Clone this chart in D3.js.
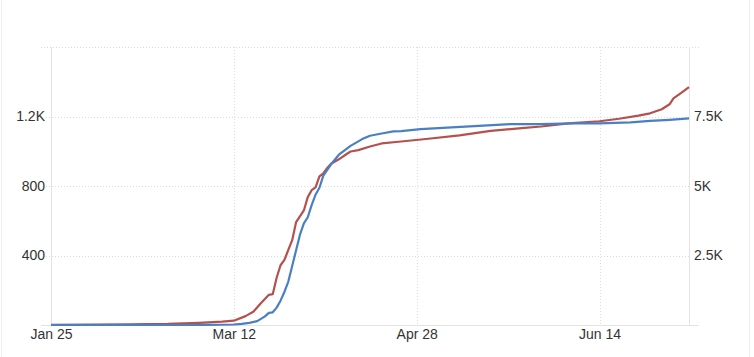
<!DOCTYPE html>
<html>
<head>
<meta charset="utf-8">
<script src="https://cdn.jsdelivr.net/npm/d3@7"></script>
<style>
html,body{margin:0;padding:0;background:#fff;}
svg{display:block;font-family:"Liberation Sans",Arial,sans-serif;}
</style>
</head>
<body>
<svg id="chart" width="754" height="357"></svg>
<script>
// ---- data ----
const startDate = "2020-01-25";
const casesDays = [0,10,20,30,38,44,47,50,52,54,56,57,58,59,60,61,62,63,65,66,67,68,69,70,71,72,74,76,77,79,82,85,90,97,105,113,121,126,133,141,146,151,154,157,159,160,161,162,164];
const casesValues = [5,15,25,40,80,120,155,320,475,790,1085,1110,1700,2150,2340,2700,3050,3700,4120,4600,4850,4950,5350,5450,5650,5800,5960,6150,6240,6290,6420,6530,6600,6700,6820,6980,7080,7140,7250,7330,7420,7530,7615,7760,7940,8150,8250,8350,8560];
const deathsDays = [0,30,40,47,49,51,53,55,56,57,58,59,60,61,62,63,64,65,66,67,68,69,70,72,74,77,80,82,85,88,90,95,103,110,118,126,134,141,149,154,159,164];
const deathsValues = [0,0,1,3,6,12,22,50,70,73,100,140,190,250,340,430,520,585,620,690,750,790,860,925,980,1031,1070,1089,1102,1114,1116,1127,1137,1146,1156,1156,1160,1160,1166,1175,1181,1189];
const xTickLabels = ["Jan 25","Mar 12","Apr 28","Jun 14"];
const xTickDays = [0,47,94,141];
const leftTicks = [400,800,1200];
const leftTickLabels = ["400","800","1.2K"];
const rightTicks = [2500,5000,7500];
const rightTickLabels = ["2.5K","5K","7.5K"];
const leftMax = 1600, rightMax = 10000, lastDay = 164;

// ---- helpers ----
const parse = d3.utcParse("%Y-%m-%d");
const t0 = parse(startDate);
const dayToDate = d => d3.utcDay.offset(t0, d);

const svg = d3.select("#chart");
const L = 51, R = 689, T = 47, B = 325;

const x = d3.scaleUtc().domain([t0, dayToDate(lastDay)]).range([L, R]);
const yL = d3.scaleLinear().domain([0, leftMax]).range([B, T]);
const yR = d3.scaleLinear().domain([0, rightMax]).range([B, T]);

// card border
svg.append("line").attr("x1",1.5).attr("x2",1.5).attr("y1",0).attr("y2",357).attr("stroke","#efefef");
svg.append("line").attr("x1",749.5).attr("x2",749.5).attr("y1",0).attr("y2",357).attr("stroke","#efefef");

const grid = svg.append("g");
// horizontal gridlines
leftTicks.forEach(v => {
  grid.append("line").attr("x1",46).attr("x2",R).attr("y1",Math.round(yL(v))+0.5).attr("y2",Math.round(yL(v))+0.5)
    .attr("stroke","#dcdcdc").attr("stroke-dasharray","1,2");
});
grid.append("line").attr("x1",41).attr("x2",699).attr("y1",Math.round(yL(leftMax))+0.5).attr("y2",Math.round(yL(leftMax))+0.5)
  .attr("stroke","#dcdcdc").attr("stroke-dasharray","1,2");
// vertical gridlines
xTickDays.slice(1).forEach(d => {
  const px = Math.round(x(dayToDate(d)))+0.5;
  grid.append("line").attr("x1",px).attr("x2",px).attr("y1",T).attr("y2",B)
    .attr("stroke","#dcdcdc").attr("stroke-dasharray","1,2");
});
// axis lines
grid.append("line").attr("x1",L+0.5).attr("x2",L+0.5).attr("y1",T).attr("y2",B).attr("stroke","#e3e3e3");
grid.append("line").attr("x1",R+0.5).attr("x2",R+0.5).attr("y1",T).attr("y2",B).attr("stroke","#e3e3e3");
grid.append("line").attr("x1",41).attr("x2",699).attr("y1",B+0.5).attr("y2",B+0.5).attr("stroke","#e3e3e3");

// axes via d3
const xAxis = d3.axisBottom(x).tickValues(xTickDays.map(dayToDate))
  .tickFormat((d,i) => xTickLabels[i]).tickSize(0).tickPadding(4);
const gx = svg.append("g").attr("transform",`translate(0,${B})`).call(xAxis);
const leftAxis = d3.axisLeft(yL).tickValues(leftTicks).tickFormat((d,i)=>leftTickLabels[i]).tickSize(0).tickPadding(6);
const gl = svg.append("g").attr("transform",`translate(${L},0)`).call(leftAxis);
const rightAxis = d3.axisRight(yR).tickValues(rightTicks).tickFormat((d,i)=>rightTickLabels[i]).tickSize(0).tickPadding(5);
const gr = svg.append("g").attr("transform",`translate(${R},0)`).call(rightAxis);
[gx,gl,gr].forEach(g => {
  g.select(".domain").remove();
  g.selectAll("text").attr("fill","#333").attr("font-size","14px").attr("font-family","Liberation Sans, Arial, sans-serif");
});

// lines
const casesData = casesDays.map((d,i)=>({date:dayToDate(d), v:casesValues[i]}));
const deathsData = deathsDays.map((d,i)=>({date:dayToDate(d), v:deathsValues[i]}));
svg.append("path").datum(casesData)
  .attr("d", d3.line().x(d=>x(d.date)).y(d=>yR(d.v)))
  .attr("fill","none").attr("stroke","#b4514d").attr("stroke-width",2.2).attr("stroke-linejoin","round");
svg.append("path").datum(deathsData)
  .attr("d", d3.line().x(d=>x(d.date)).y(d=>yL(d.v)))
  .attr("fill","none").attr("stroke","#4a7fc3").attr("stroke-width",2.2).attr("stroke-linejoin","round");
</script>
</body>
</html>
